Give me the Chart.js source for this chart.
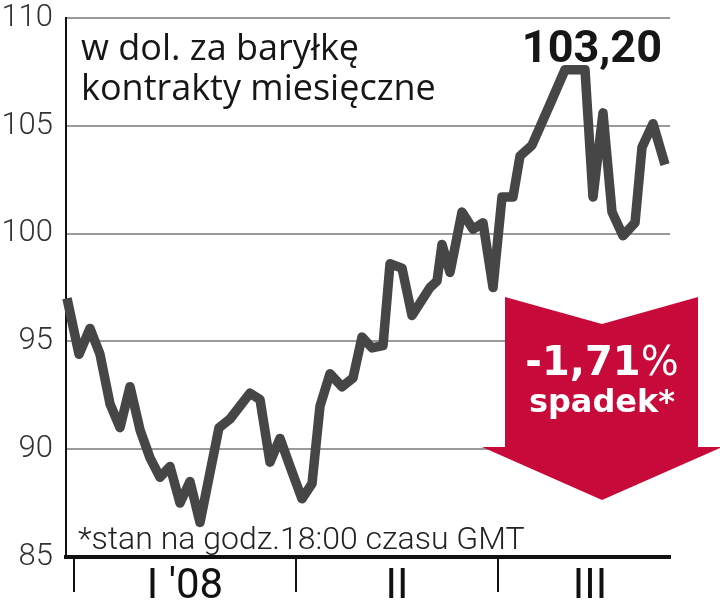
<!DOCTYPE html>
<html lang="pl">
<head>
<meta charset="utf-8">
<title>Ropa</title>
<script src="https://cdn.jsdelivr.net/npm/chart.js@4.4.1/dist/chart.umd.min.js"></script>
<style>
  html, body { margin: 0; padding: 0; background: #fff; }
</style>
</head>
<body>
<canvas id="ropa" width="720" height="608"></canvas>
<script>
// notowania (kolejne sesje) i ceny w dol. za baryłkę
var sesje = [0.1, 1.3, 2.4, 3.4, 4.4, 5.4, 6.4, 7.4, 8.4, 9.4, 10.4, 11.4, 12.4, 13.4,
  15.3, 16.4, 18.4, 19.4, 20.4, 21.4, 22.4, 23.6, 24.6, 25.4, 26.4, 27.6, 28.7, 29.6,
  30.6, 31.7, 32.4, 33.6, 34.6, 36.4, 37.1, 37.6, 38.4, 39.6, 40.7, 41.7, 42.7, 43.6,
  44.7, 45.4, 46.6, 48.4, 49.9, 51.9, 52.7, 53.7, 54.6, 55.7, 56.9, 57.6, 58.7, 59.9];
var ceny = [97.0, 94.4, 95.6, 94.4, 92.1, 91.0, 92.9, 90.9, 89.6, 88.7, 89.2, 87.5, 88.5, 86.6,
  91.0, 91.4, 92.6, 92.3, 89.4, 90.5, 89.2, 87.7, 88.4, 92.0, 93.5, 92.9, 93.3, 95.2,
  94.7, 94.8, 98.6, 98.4, 96.2, 97.5, 97.8, 99.5, 98.2, 101.0, 100.2, 100.5, 97.5, 101.7,
  101.7, 103.6, 104.1, 106.0, 107.6, 107.6, 101.7, 105.6, 101.0, 99.9, 100.5, 104.0, 105.1, 103.2];

var granice = [0.8, 23.0, 43.2];
var srodki = [11.9, 33.1, 52.4];
var kwartaly = ["I '08", "II", "III"];
var osY = [85, 90, 95, 100, 105, 110];

var ostatnia = "103,20";
var zmiana = "-1,71";

var napisy = {
  id: 'napisy',
  afterDatasetsDraw: function (chart) {
    var ctx = chart.ctx;
    var a = chart.chartArea;
    ctx.save();

    // opis w lewym górnym rogu
    ctx.fillStyle = '#161616';
    ctx.textAlign = 'left';
    ctx.textBaseline = 'alphabetic';
    ctx.font = '36px "Open Sans"';
    ctx.fillText('w dol. za baryłkę', a.left + 15, 60);
    ctx.fillText('kontrakty miesięczne', a.left + 15, 100);

    // ostatnia wartość
    ctx.textAlign = 'right';
    ctx.font = 'bold 45px Roboto';
    ctx.fillText(ostatnia, a.right - 8, 62);

    // przypis
    ctx.textAlign = 'left';
    ctx.font = '300 32px Roboto';
    ctx.fillStyle = '#222';
    ctx.fillText('*stan na godz.18:00 czasu GMT', a.left + 12, 549);

    // czerwona strzałka
    var cx = a.right - 68;
    ctx.fillStyle = '#c70a3a';
    ctx.beginPath();
    ctx.moveTo(cx - 97, 297);
    ctx.lineTo(cx, 324);
    ctx.lineTo(cx + 96, 297);
    ctx.lineTo(cx + 96, 447);
    ctx.lineTo(cx + 120, 447);
    ctx.lineTo(cx, 500);
    ctx.lineTo(cx - 120, 447);
    ctx.lineTo(cx - 97, 447);
    ctx.closePath();
    ctx.fill();

    ctx.fillStyle = '#fff';
    ctx.textAlign = 'left';
    ctx.font = 'bold 40px "DejaVu Sans"';
    var w1 = ctx.measureText(zmiana).width;
    ctx.font = '40px "DejaVu Sans"';
    var w2 = ctx.measureText('%').width;
    var x0 = cx - (w1 + w2) / 2;
    ctx.font = 'bold 40px "DejaVu Sans"';
    ctx.fillText(zmiana, x0, 375);
    ctx.font = '40px "DejaVu Sans"';
    ctx.fillText('%', x0 + w1, 375);

    ctx.textAlign = 'center';
    ctx.font = 'bold 32px "DejaVu Sans"';
    ctx.fillText('spadek*', cx, 412);

    ctx.restore();
  }
};

new Chart(document.getElementById('ropa'), {
  type: 'line',
  data: {
    datasets: [{
      data: sesje.map(function (x, i) { return { x: x, y: ceny[i] }; }),
      borderColor: '#464646',
      borderWidth: 9.5,
      borderJoinStyle: 'round',
      borderCapStyle: 'butt',
      pointRadius: 0,
      tension: 0,
      clip: false
    }]
  },
  options: {
    responsive: false,
    animation: false,
    layout: { padding: { top: 0, right: 50, left: 0, bottom: 0 } },
    plugins: {
      legend: { display: false },
      tooltip: { enabled: false }
    },
    scales: {
      x: {
        type: 'linear',
        min: 0,
        max: 60.4,
        afterFit: function (s) { s.height = 51; },
        afterBuildTicks: function (s) {
          s.ticks = granice.concat(srodki).sort(function (p, q) { return p - q; })
            .map(function (v) { return { value: v }; });
        },
        border: { color: '#111', width: 4 },
        grid: {
          drawOnChartArea: false,
          drawTicks: true,
          tickLength: 35,
          lineWidth: 2,
          color: function (c) {
            return c.tick && granice.indexOf(c.tick.value) >= 0 ? '#111' : 'rgba(0,0,0,0)';
          }
        },
        ticks: {
          autoSkip: false,
          maxRotation: 0,
          padding: -30,
          color: '#111',
          font: { family: 'Roboto', size: 42 },
          callback: function (v) {
            var i = srodki.indexOf(v);
            return i >= 0 ? kwartaly[i] : '';
          }
        }
      },
      y: {
        min: 85,
        max: 110,
        afterFit: function (s) {
          s.width = 66;
          s.paddingTop = 18;
          s.paddingBottom = 0;
        },
        afterBuildTicks: function (s) {
          s.ticks = osY.map(function (v) { return { value: v }; });
        },
        border: { color: '#111', width: 2 },
        grid: { color: '#9a9a9a', lineWidth: 2, drawTicks: false },
        ticks: {
          padding: 13,
          color: '#333',
          font: { family: 'Roboto', size: 31, weight: '300' }
        }
      }
    }
  },
  plugins: [napisy]
});
</script>
</body>
</html>
